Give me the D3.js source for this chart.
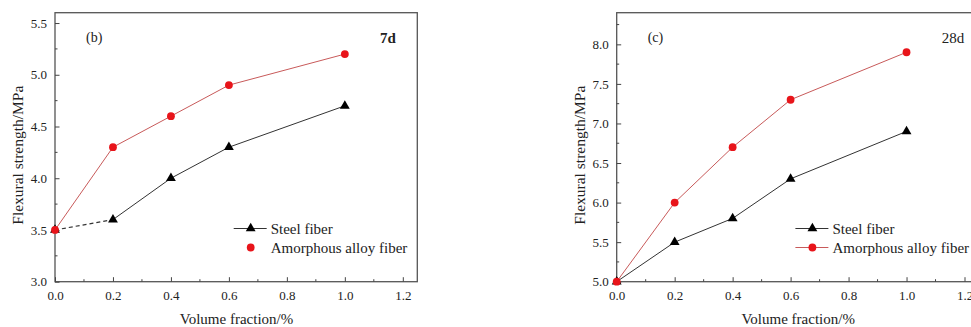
<!DOCTYPE html>
<html>
<head>
<meta charset="utf-8">
<script src="https://cdn.jsdelivr.net/npm/d3@7"></script>
<style>
  body { margin: 0; background: #fff; }
  svg text { font-family: "Liberation Serif", "Times New Roman", serif; fill: #222; }
</style>
</head>
<body>
<div id="chart"></div>
<script>
// Flexural strength vs fiber volume fraction, 7d and 28d panels

const fractions = [0.0, 0.2, 0.4, 0.6, 1.0];
const xTicks = [0.0, 0.2, 0.4, 0.6, 0.8, 1.0, 1.2];

const steel7d = [3.5, 3.6, 4.0, 4.3, 4.7];
const alloy7d = [3.5, 4.3, 4.6, 4.9, 5.2];
const yTicks7d = [3.0, 3.5, 4.0, 4.5, 5.0, 5.5];

const steel28d = [5.0, 5.5, 5.8, 6.3, 6.9];
const alloy28d = [5.0, 6.0, 6.7, 7.3, 7.9];
const yTicks28d = [5.0, 5.5, 6.0, 6.5, 7.0, 7.5, 8.0];

const seriesNames = ['Steel fiber', 'Amorphous alloy fiber'];

const W = 971, H = 327;
const svg = d3.select('#chart').append('svg')
    .attr('width', W)
    .attr('height', H);

const panels = [
    {left: 55, label: '(b)', age: '7d', ageBold: true, steel: steel7d, alloy: alloy7d,
     yTicks: yTicks7d, yDomain: [3.0, 5.6], dashFirst: true, alloyLegendLine: false},
    {left: 616.7, label: '(c)', age: '28d', ageBold: false, steel: steel28d, alloy: alloy28d,
     yTicks: yTicks28d, yDomain: [5.0, 8.4], dashFirst: false, alloyLegendLine: true}
];

const plotTop = 12.7, plotBottom = 281.7, plotW = 362.3;

panels.forEach(p => {
    const x = d3.scaleLinear().domain([0, 1.25]).range([p.left, p.left + plotW]);
    const y = d3.scaleLinear().domain(p.yDomain).range([plotBottom, plotTop]);
    const g = svg.append('g');

    // frame
    g.append('rect')
        .attr('x', x(0)).attr('y', plotTop)
        .attr('width', plotW).attr('height', plotBottom - plotTop)
        .attr('fill', 'none').attr('stroke', '#555').attr('stroke-width', 1.3);

    // minor ticks
    const xMinor = d3.range(0.1, 1.25, 0.2);
    g.selectAll('.xminor').data(xMinor).enter().append('line')
        .attr('x1', d => x(d)).attr('x2', d => x(d))
        .attr('y1', plotBottom).attr('y2', plotBottom - 2.5)
        .attr('stroke', '#444');
    const yMinor = d3.range(p.yDomain[0] + 0.25, p.yDomain[1], 0.5);
    g.selectAll('.yminor').data(yMinor).enter().append('line')
        .attr('x1', x(0)).attr('x2', x(0) + 2.5)
        .attr('y1', d => y(d)).attr('y2', d => y(d))
        .attr('stroke', '#444');

    // axes (ticks pointing inward)
    const xAxis = g.append('g')
        .attr('transform', `translate(0,${plotBottom})`)
        .call(d3.axisBottom(x).tickValues(xTicks).tickFormat(d3.format('.1f'))
            .tickSizeInner(-4.5).tickSizeOuter(0).tickPadding(9));
    const yAxis = g.append('g')
        .attr('transform', `translate(${x(0)},0)`)
        .call(d3.axisLeft(y).tickValues(p.yTicks).tickFormat(d3.format('.1f'))
            .tickSizeInner(-4.5).tickSizeOuter(0).tickPadding(8));
    [xAxis, yAxis].forEach(a => {
        a.select('.domain').remove();
        a.selectAll('.tick line').attr('stroke', '#444');
        a.selectAll('.tick text')
            .style('font-family', '"Liberation Serif", serif')
            .style('font-size', '13px').attr('fill', '#222');
    });

    // axis titles
    g.append('text')
        .attr('x', x(0) + 181.5).attr('y', 324)
        .attr('text-anchor', 'middle')
        .style('font-size', '15px')
        .text('Volume fraction/%');
    g.append('text')
        .attr('transform', `translate(${x(0) - 32},${(plotTop + plotBottom) / 2 + 8}) rotate(-90)`)
        .attr('text-anchor', 'middle')
        .style('font-size', '15.5px')
        .text('Flexural strength/MPa');

    // panel labels
    g.append('text')
        .attr('x', x(0) + 31).attr('y', 42)
        .style('font-size', '14px')
        .text(p.label);
    g.append('text')
        .attr('x', x(0) + 325).attr('y', 43)
        .style('font-size', '15px')
        .style('font-weight', p.ageBold ? 'bold' : 'normal')
        .text(p.age);

    const pts = s => fractions.map((f, i) => [x(f), y(s[i])]);

    // alloy line
    g.append('path')
        .attr('d', d3.line()(pts(p.alloy)))
        .attr('fill', 'none').attr('stroke', '#c85a5a').attr('stroke-width', 1);

    // steel line (first segment optionally dashed)
    const sp = pts(p.steel);
    if (p.dashFirst) {
        g.append('path').attr('d', d3.line()(sp.slice(0, 2)))
            .attr('fill', 'none').attr('stroke', '#333').attr('stroke-width', 1.2)
            .attr('stroke-dasharray', '4,3');
        g.append('path').attr('d', d3.line()(sp.slice(1)))
            .attr('fill', 'none').attr('stroke', '#333').attr('stroke-width', 1);
    } else {
        g.append('path').attr('d', d3.line()(sp))
            .attr('fill', 'none').attr('stroke', '#333').attr('stroke-width', 1);
    }

    const tri = d3.symbol().type(d3.symbolTriangle).size(42);
    g.selectAll('.tri').data(sp).enter().append('path')
        .attr('d', tri)
        .attr('transform', d => `translate(${d[0]},${d[1]})`)
        .attr('fill', '#000');
    g.selectAll('.dot').data(pts(p.alloy)).enter().append('circle')
        .attr('cx', d => d[0]).attr('cy', d => d[1])
        .attr('r', 3.9).attr('fill', '#e8141a');

    // legend
    const lx = x(0) + 195.7, ly = 228.5;
    g.append('line')
        .attr('x1', lx - 17).attr('x2', lx + 16)
        .attr('y1', ly).attr('y2', ly)
        .attr('stroke', '#333').attr('stroke-width', 1);
    g.append('path').attr('d', tri)
        .attr('transform', `translate(${lx},${ly})`).attr('fill', '#000');
    if (p.alloyLegendLine) {
        g.append('line')
            .attr('x1', lx - 17).attr('x2', lx + 16)
            .attr('y1', ly + 19).attr('y2', ly + 19)
            .attr('stroke', '#c85a5a').attr('stroke-width', 1);
    }
    g.append('circle')
        .attr('cx', lx).attr('cy', ly + 19)
        .attr('r', 3.9).attr('fill', '#e8141a');
    seriesNames.forEach((name, i) => {
        g.append('text')
            .attr('x', lx + 20).attr('y', ly + 5 + i * 19)
            .style('font-size', '15px')
            .text(name);
    });
});
</script>
</body>
</html>
